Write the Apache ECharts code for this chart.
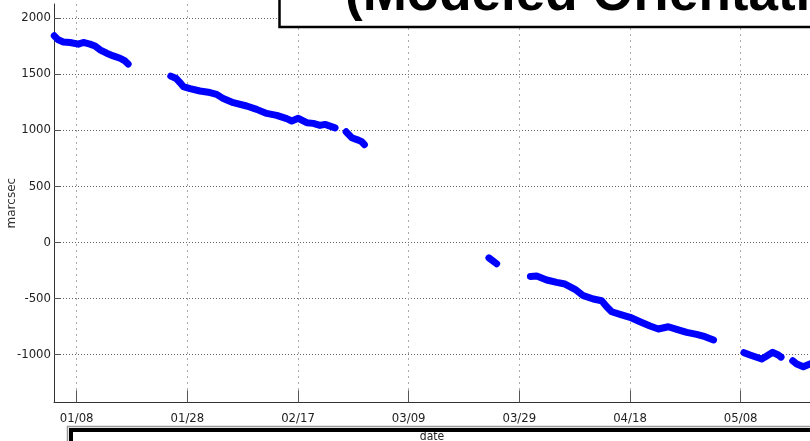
<!DOCTYPE html>
<html>
<head>
<meta charset="utf-8">
<script src="https://cdn.jsdelivr.net/npm/echarts@6/dist/echarts.min.js"></script>
<style>html,body{margin:0;padding:0;background:#fff;}#c{width:810px;height:441px;}</style>
</head>
<body>
<div id="c"></div>
<script>
// Day of year (non-leap year), null = gap between observation passes
var obsDay = [
  3.95, 4.67, 5.58, 6.79, 8.29, 9.19, 10.40, 11.31, 12.21, 13.42, 14.61, 15.83, 16.73, 17.3, null,
  25.0, 26.0, 26.67, 27.27, 28.48, 30.28, 32.09, 33.30, 34.50, 36.30, 38.72, 40.53, 42.34, 44.15, 45.95, 46.86, 48.05, 49.57, 50.76, 51.97, 52.88, 53.78, 54.7, null,
  56.7, 57.7, 58.9, 59.5, 60.0, null,
  82.5, 83.9, null,
  90.0, 91.14, 92.95, 94.75, 96.25, 98.06, 99.56, 101.37, 102.88, 103.79, 104.69, 106.19, 108.0, 109.81, 111.62, 113.12, 114.92, 116.44, 118.25, 120.05, 121.56, 123.1, null,
  128.6, 129.69, 131.8, 132.71, 133.79, 134.8, 135.3, null,
  137.4, 138.13, 139.32, 140.53
];
var obsMarcsec = [
  1841, 1805, 1787, 1782, 1767, 1782, 1767, 1751, 1716, 1686, 1662, 1641, 1617, 1590, null,
  1482, 1460, 1424, 1388, 1370, 1349, 1335, 1319, 1281, 1245, 1215, 1185, 1149, 1132, 1102, 1081, 1105, 1066, 1060, 1042, 1051, 1036, 1020, null,
  985, 932, 911, 897, 870, null,
  -140, -192, null,
  -305, -302, -337, -358, -373, -420, -477, -507, -522, -575, -620, -643, -670, -709, -748, -774, -754, -777, -804, -822, -843, -872, null,
  -985, -1006, -1042, -1015, -982, -1006, -1025, null,
  -1058, -1087, -1111, -1085
];
var xTickDays = [8, 28, 48, 68, 88, 108, 128];
var xTickLabels = ['01/08', '01/28', '02/17', '03/09', '03/29', '04/18', '05/08'];
var yTicks = [-1000, -500, 0, 500, 1000, 1500, 2000];
var titleText = '(Modeled Orientation)';

var data = [];
for (var i = 0; i < obsDay.length; i++) {
  if (obsDay[i] === null) data.push('-');
  else data.push([obsDay[i], obsMarcsec[i]]);
}

var narrow = '"Liberation Sans Narrow", "DejaVu Sans Condensed", sans-serif';
var chart = echarts.init(document.getElementById('c'), null, {renderer: 'canvas'});
chart.setOption({
  animation: false,
  backgroundColor: '#ffffff',
  grid: {left: 54, top: 4, right: 0, bottom: 38.7, containLabel: false, outerBoundsMode: 'none'},
  xAxis: {
    type: 'value', min: 3.9, max: 140.53,
    name: 'date', nameLocation: 'middle', nameGap: 29, nameMoveOverlap: false,
    nameTextStyle: {fontFamily: narrow, fontSize: 12, color: '#222'},
    axisLine: {show: true, onZero: false, lineStyle: {color: '#333', width: 1}},
    axisTick: {show: true, inside: true, length: 12, customValues: xTickDays, lineStyle: {color: '#555'}},
    axisLabel: {
      customValues: xTickDays, margin: 10, fontFamily: narrow, fontSize: 13, color: '#222',
      formatter: function (v) { var k = xTickDays.indexOf(v); return k >= 0 ? xTickLabels[k] : ''; }
    },
    splitLine: {show: true, lineStyle: {type: [2, 4], color: '#aaa', width: 1}}
  },
  yAxis: {
    type: 'value', min: -1428, max: 2125,
    name: 'marcsec', nameLocation: 'middle', nameGap: 36, nameMoveOverlap: false,
    nameTextStyle: {fontFamily: '"DejaVu Sans", sans-serif', fontSize: 12, color: '#333'},
    axisLine: {show: true, onZero: false, lineStyle: {color: '#333', width: 1}},
    axisTick: {show: true, inside: true, length: 7, customValues: yTicks, lineStyle: {color: '#555'}},
    axisLabel: {
      customValues: yTicks, margin: 3, fontFamily: narrow, fontSize: 13, color: '#222',
      formatter: function (v) { return String(v); }
    },
    splitLine: {show: true, lineStyle: {type: [1, 2], color: '#666', width: 1}}
  },
  series: [{
    type: 'line', data: data, showSymbol: false, connectNulls: false,
    lineStyle: {color: '#0000ff', width: 7, cap: 'round', join: 'round'},
    itemStyle: {color: '#0000ff'}, z: 5
  }],
  graphic: [
    {type: 'rect', z: 100, shape: {x: 279.5, y: -20, width: 600, height: 47}, style: {fill: '#ffffff', stroke: '#000', lineWidth: 2.5}},
    {type: 'text', z: 101, x: 345, y: -5, style: {text: titleText, font: 'bold 53px "Liberation Sans", Arial, sans-serif', fill: '#000', verticalAlign: 'middle', align: 'left'}},
    {type: 'rect', z: 100, shape: {x: 67.5, y: 426.5, width: 800, height: 60}, style: {fill: null, stroke: '#999', lineWidth: 1.5}},
    {type: 'rect', z: 101, shape: {x: 71, y: 430, width: 800, height: 60}, style: {fill: null, stroke: '#000', lineWidth: 4}}
  ]
});
</script>
</body>
</html>
